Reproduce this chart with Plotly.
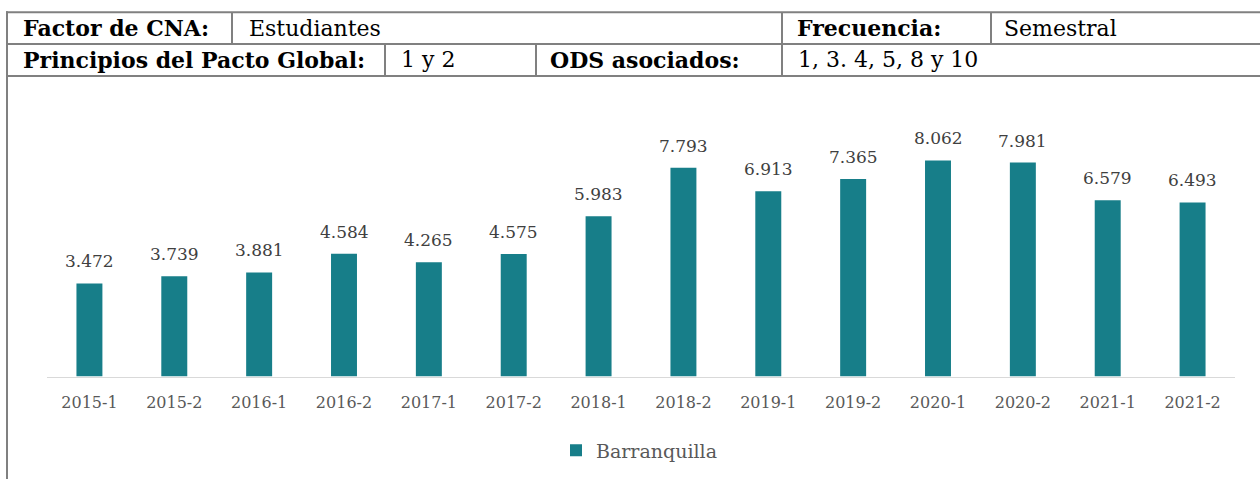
import plotly.graph_objects as go

W, H = 1260, 479

categories = ["2015-1", "2015-2", "2016-1", "2016-2", "2017-1", "2017-2", "2018-1",
              "2018-2", "2019-1", "2019-2", "2020-1", "2020-2", "2021-1", "2021-2"]
values = [3472, 3739, 3881, 4584, 4265, 4575, 5983, 7793, 6913, 7365, 8062, 7981, 6579, 6493]
series_name = "Barranquilla"

row1_labels = ["Factor de CNA:", "Estudiantes", "Frecuencia:", "Semestral"]
row2_labels = ["Principios del Pacto Global:", "1 y 2", "ODS asociados:", "1, 3. 4, 5, 8 y 10"]

BAR = "#177E89"
GRID = "#808080"
FONT = "DejaVu Serif"


def px(x):
    return x / W


def py(y):
    return 1 - y / H


fig = go.Figure()
fig.add_trace(go.Bar(
    x=categories, y=values, name=series_name,
    marker=dict(color=BAR, line=dict(width=0)),
    showlegend=True,
))

# data labels
for c, v in zip(categories, values):
    fig.add_annotation(
        x=c, y=v, xref="x", yref="y",
        text=f"{v:,}".replace(",", "."),
        showarrow=False, yanchor="bottom", yshift=10,
        font=dict(family=FONT, size=17, color="#404040"),
    )

# table shapes
shapes = []
line = dict(color=GRID, width=2)
for yy in (12.3, 44, 76):
    shapes.append(dict(type="line", xref="paper", yref="paper",
                       x0=px(6), x1=px(1262), y0=py(yy), y1=py(yy), line=line))
shapes.append(dict(type="line", xref="paper", yref="paper",
                   x0=px(7), x1=px(7), y0=py(11.3), y1=py(481), line=line))
for xx in (232, 782, 991):
    shapes.append(dict(type="line", xref="paper", yref="paper",
                       x0=px(xx), x1=px(xx), y0=py(12.3), y1=py(44), line=line))
for xx in (385, 536, 782):
    shapes.append(dict(type="line", xref="paper", yref="paper",
                       x0=px(xx), x1=px(xx), y0=py(44), y1=py(76), line=line))

row1_x = [22, 248, 796, 1003]
row2_x = [22, 400, 549, 797]
bold = [True, False, True, False]
for labels, xs, yc in ((row1_labels, row1_x, 28.5), (row2_labels, row2_x, 59.5)):
    for t, xx, b in zip(labels, xs, bold):
        fig.add_annotation(
            x=px(xx), y=py(yc), xref="paper", yref="paper",
            text=f"<b>{t}</b>" if b else t,
            showarrow=False, xanchor="left", yanchor="middle",
            font=dict(family=FONT, size=22, color="#000000"),
            borderpad=0,
        )

fig.update_layout(
    width=W, height=H, autosize=False,
    margin=dict(l=0, r=0, t=0, b=0),
    paper_bgcolor="white", plot_bgcolor="white",
    bargap=0.694,
    separators=",.",
    shapes=shapes,
    font=dict(family=FONT),
    legend=dict(
        orientation="h", x=px(556), xanchor="left", y=py(450.5), yanchor="middle",
        font=dict(family=FONT, size=19, color="#595959"),
        bgcolor="rgba(0,0,0,0)",
    ),
    xaxis=dict(
        type="category",
        domain=[px(47), px(1235)],
        showline=True, linecolor="#d9d9d9", linewidth=1,
        ticks="", showgrid=False, zeroline=False,
        tickfont=dict(family=FONT, size=16, color="#595959"),
        ticklabelstandoff=11, automargin=False,
    ),
    yaxis=dict(
        domain=[py(376.5), py(376.5 - 9000 * 0.0268)],
        range=[0, 9000], showgrid=False, zeroline=False,
        showticklabels=False, showline=False, ticks="", automargin=False,
    ),
)

fig.write_html("out.html", config={"displayModeBar": False},
               post_script="document.body.style.margin='0';document.body.style.overflow='hidden';")
